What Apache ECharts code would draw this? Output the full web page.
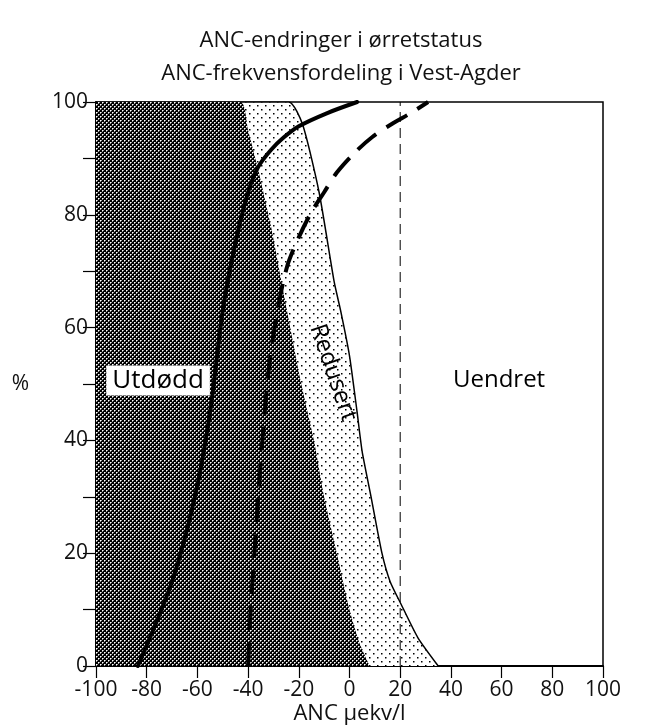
<!DOCTYPE html>
<html>
<head>
<meta charset="utf-8">
<script src="https://cdn.jsdelivr.net/npm/echarts@6/dist/echarts.min.js"></script>
<style>
  html, body { margin: 0; padding: 0; background: #fff; }
  #chart { width: 653px; height: 726px; }
</style>
</head>
<body>
<div id="chart"></div>
<script>
  // grenser og kurver, lest av figuren (x = ANC, y = %)
  const utdoddEdge = [[-100, 100], [-43, 100], [-40, 95], [-36, 88], [-31, 78], [-25.5, 65], [-19, 50],
    [-14, 40], [-10, 30], [-5, 20], [0, 10], [4, 4], [8, 0]];
  const redusertEdge = [[-100, 100], [-24, 100], [-18.5, 96], [-12, 84], [-6, 68], [-3.5, 63], [0, 55],
    [3, 45], [5, 38], [8.5, 30], [12.8, 20], [16, 15], [20.3, 11], [27, 5], [35, 0]];
  const solidCurve = [[-83.5, 0], [-70, 15], [-61, 30], [-55, 45], [-50, 63], [-45, 75], [-40, 84],
    [-36, 88.5], [-31, 91.5], [-26, 93.7], [-20, 95.7], [-9, 98], [3, 100]];
  const dashedCurve = [[-40, 0], [-39, 10], [-37.5, 20], [-36, 30], [-34, 42], [-31.5, 54], [-28, 64],
    [-24.5, 71], [-20, 76], [-15, 80.5], [-10, 84], [-5, 87.5], [2, 91], [9, 93.8],
    [17, 96.2], [24, 98], [31, 100]];
  const refLine = [[20, 0], [20, 100]];
  const xTicks = { min: -100, max: 100, step: 20 };
  const yTicks = { min: 0, max: 100, step: 10 };

  const FONT = 'Open Sans';

  // mønster: svart med hvite prikker
  function darkPattern() {
    let c = document.createElement('canvas');
    c.width = 4; c.height = 4;
    let ctx = c.getContext('2d');
    ctx.fillStyle = '#000';
    ctx.fillRect(0, 0, 4, 4);
    ctx.fillStyle = '#fff';
    ctx.fillRect(0, 0, 1, 1);
    ctx.fillRect(2, 2, 1, 1);
    ctx.fillStyle = 'rgba(255,255,255,0.6)';
    ctx.fillRect(1, 0, 1, 1);
    ctx.fillRect(3, 2, 1, 1);
    ctx.fillRect(0, 1, 1, 1);
    ctx.fillRect(2, 3, 1, 1);
    return c;
  }
  // mønster: hvit med svarte prikker
  function dotPattern() {
    let c = document.createElement('canvas');
    c.width = 8; c.height = 8;
    let ctx = c.getContext('2d');
    ctx.fillStyle = '#fff';
    ctx.fillRect(0, 0, 8, 8);
    ctx.fillStyle = '#000';
    ctx.fillRect(1, 1, 1.5, 1.5);
    ctx.fillRect(5, 5, 1.5, 1.5);
    return c;
  }

  let chart = echarts.init(document.getElementById('chart'));

  let option = {
    backgroundColor: '#fff',
    animation: false,
    title: {
      text: 'ANC-endringer i ørretstatus\nANC-frekvensfordeling i Vest-Agder',
      left: 336,
      textAlign: 'center',
      top: 19,
      textStyle: {
        fontFamily: FONT,
        fontWeight: 'normal',
        fontSize: 22,
        lineHeight: 33,
        color: '#111'
      }
    },
    grid: {
      left: 96,
      right: 50,
      top: 102,
      bottom: 60,
      containLabel: false,
      outerBoundsMode: 'none',
      show: true,
      borderColor: '#000',
      borderWidth: 1.5,
      backgroundColor: 'transparent'
    },
    xAxis: {
      type: 'value',
      min: xTicks.min,
      max: xTicks.max,
      interval: xTicks.step,
      name: 'ANC μekv/l',
      nameLocation: 'middle',
      nameGap: 37,
      nameMoveOverlap: false,
      nameTextStyle: { fontFamily: FONT, fontSize: 22, color: '#111' },
      axisLine: { onZero: false, lineStyle: { color: '#000', width: 2 } },
      axisTick: { length: 12, lineStyle: { color: '#000', width: 1.2 } },
      axisLabel: { fontFamily: FONT, fontSize: 21, color: '#111', margin: 14 },
      splitLine: { show: false }
    },
    yAxis: {
      type: 'value',
      min: yTicks.min,
      max: yTicks.max,
      interval: yTicks.step,
      name: '%',
      nameLocation: 'middle',
      nameRotate: 0,
      nameGap: 67,
      nameMoveOverlap: false,
      nameTextStyle: { fontFamily: FONT, fontSize: 21, color: '#111' },
      axisLine: { onZero: false, lineStyle: { color: '#000', width: 2 } },
      axisTick: { length: 13, lineStyle: { color: '#000', width: 1.2 } },
      axisLabel: {
        fontFamily: FONT, fontSize: 21, color: '#111', margin: 8,
        formatter: function (v) { return v % 20 === 0 ? v : ''; }
      },
      splitLine: { show: false }
    },
    series: [
      {
        name: 'Redusert',
        type: 'line',
        data: redusertEdge,
        smooth: 0.2,
        symbol: 'none',
        z: 1,
        lineStyle: { color: '#000', width: 1.5 },
        areaStyle: { color: { image: dotPattern(), repeat: 'repeat' }, opacity: 1 }
      },
      {
        name: 'Utdødd',
        type: 'line',
        data: utdoddEdge,
        smooth: 0.2,
        symbol: 'none',
        z: 2,
        lineStyle: { width: 0 },
        areaStyle: { color: { image: darkPattern(), repeat: 'repeat' }, opacity: 1 }
      },
      {
        name: 'ref',
        type: 'line',
        data: refLine,
        symbol: 'none',
        z: 3,
        lineStyle: { color: '#000', width: 1, type: [10, 6] }
      },
      {
        name: 'heltrukket',
        type: 'line',
        data: solidCurve,
        smooth: 0.3,
        symbol: 'none',
        z: 4,
        lineStyle: { color: '#000', width: 4, cap: 'round' }
      },
      {
        name: 'stiplet',
        type: 'line',
        data: dashedCurve,
        smooth: 0.3,
        symbol: 'none',
        z: 4,
        lineStyle: { color: '#000', width: 4, type: [24, 12] }
      },
      {
        name: 'tekst',
        type: 'scatter',
        symbolSize: 0,
        z: 6,
        itemStyle: { opacity: 1, color: 'transparent' },
        label: {
          show: true,
          position: 'inside',
          fontFamily: FONT,
          fontSize: 24,
          color: '#000',
          opacity: 1,
          formatter: function (p) { return p.data.name; }
        },
        data: [
          { name: 'Utdødd', value: [-75.5, 50.6], label: { fontSize: 26, backgroundColor: '#fff', padding: [3, 6, 1, 6] } },
          { name: 'Redusert', value: [-6.5, 52], label: { rotate: -71 } },
          { name: 'Uendret', value: [59, 50.6] }
        ]
      }
    ]
  };

  chart.setOption(option);
</script>
</body>
</html>
